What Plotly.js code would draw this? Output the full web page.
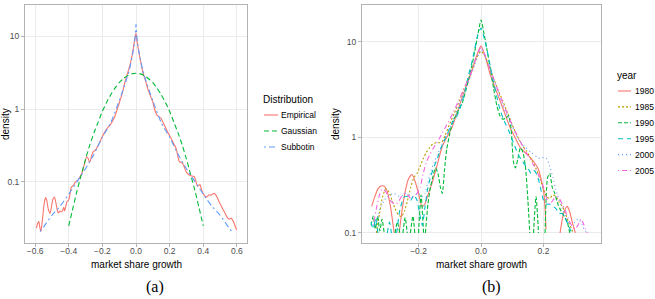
<!DOCTYPE html>
<html>
<head>
<meta charset="utf-8">
<script src="https://cdn.plot.ly/plotly-3.0.1.min.js"></script>
<style>
  html, body { margin: 0; padding: 0; background: #fff; }
  #chart { width: 655px; height: 299px; }
</style>
</head>
<body>
<div id="chart"></div>
<script>
// ---------- Panel (a): density of market share growth, three fits ----------
const distNames = ["Empirical", "Gaussian", "Subbotin"];

const empiricalX = [-0.592,-0.585,-0.578,-0.572,-0.566,-0.558,-0.55,-0.543,-0.537,-0.53,-0.522,-0.511,-0.503,-0.495,-0.485,-0.477,-0.469,-0.461,-0.452,-0.444,-0.436,-0.43,-0.424,-0.418,-0.41,-0.402,-0.395,-0.386,-0.378,-0.37,-0.36,-0.352,-0.343,-0.333,-0.323,-0.313,-0.303,-0.293,-0.284,-0.278,-0.273,-0.264,-0.254,-0.244,-0.234,-0.224,-0.214,-0.2,-0.184,-0.17,-0.154,-0.145,-0.135,-0.125,-0.115,-0.1,-0.085,-0.075,-0.065,-0.05,-0.036,-0.025,-0.016,-0.008,0,
  0.006,0.013,0.02,0.03,0.04,0.055,0.069,0.084,0.099,0.11,0.123,0.135,0.149,0.163,0.178,0.193,0.208,0.223,0.238,0.248,0.258,0.268,0.277,0.287,0.297,0.307,0.317,0.327,0.337,0.347,0.357,0.366,0.373,0.38,0.39,0.398,0.406,0.416,0.426,0.436,0.446,0.455,0.465,0.475,0.485,0.495,0.505,0.515,0.525,0.535,0.545,0.555,0.565,0.575,0.584,0.592,0.598];
const empiricalY = [0.0234,0.027,0.0286,0.024,0.0209,0.028,0.042,0.056,0.061,0.055,0.043,0.037,0.045,0.057,0.062,0.053,0.042,0.0376,0.04,0.039,0.041,0.045,0.04,0.046,0.054,0.056,0.062,0.0836,0.088,0.091,0.1,0.103,0.107,0.118,0.13,0.155,0.19,0.222,0.21,0.19,0.19,0.23,0.26,0.27,0.29,0.32,0.357,0.42,0.49,0.55,0.6,0.65,0.71,0.8,0.94,1.2,1.55,1.9,2.37,3.1,4.0,5.2,6.8,8.8,11,
  8.5,6.8,5.5,4.2,3.24,2.5,1.92,1.55,1.26,1.0,0.83,0.79,0.745,0.64,0.54,0.46,0.4,0.34,0.29,0.23,0.19,0.185,0.18,0.16,0.14,0.13,0.125,0.122,0.12,0.118,0.1,0.087,0.09,0.092,0.078,0.07,0.066,0.062,0.064,0.067,0.066,0.068,0.07,0.066,0.06,0.053,0.048,0.043,0.039,0.035,0.032,0.031,0.032,0.03,0.027,0.024,0.022];

const gaussianX = [-0.4,-0.375,-0.35,-0.325,-0.3,-0.275,-0.25,-0.225,-0.2,-0.175,-0.15,-0.125,-0.1,-0.075,-0.05,-0.025,0,0.025,0.05,0.075,0.1,0.125,0.15,0.175,0.2,0.225,0.25,0.275,0.3,0.325,0.35,0.375,0.4];
const gaussianY = [0.025,0.044,0.077,0.126,0.206,0.32,0.47,0.66,0.93,1.23,1.57,1.93,2.29,2.6,2.87,3.03,3.09,3.03,2.87,2.6,2.29,1.93,1.57,1.23,0.93,0.66,0.47,0.32,0.206,0.126,0.077,0.044,0.025];

const subbotinX = [-0.57,-0.55,-0.5,-0.45,-0.4,-0.35,-0.3,-0.25,-0.2,-0.15,-0.1,-0.08,-0.06,-0.04,-0.03,-0.02,-0.01,-0.005,0,0.005,0.01,0.02,0.03,0.04,0.06,0.08,0.1,0.15,0.2,0.25,0.3,0.35,0.4,0.45,0.5,0.55,0.57];
const subbotinY = [0.021,0.024,0.035,0.047,0.068,0.102,0.152,0.24,0.41,0.65,1.3,1.75,2.4,3.4,4.3,5.6,7.8,10,14.5,10,7.8,5.6,4.3,3.4,2.4,1.75,1.3,0.65,0.41,0.24,0.152,0.102,0.068,0.047,0.035,0.024,0.021];

const xTicksA = [-0.6, -0.4, -0.2, 0, 0.2, 0.4, 0.6];
const xTickTextA = ["\u22120.6", "\u22120.4", "\u22120.2", "0.0", "0.2", "0.4", "0.6"];
const yTicks = [0.1, 1, 10];
const yTickText = ["0.1", "1", "10"];

// ---------- Panel (b): density by year (null = below the 0.1 floor) ----------
const years = ["1980", "1985", "1990", "1995", "2000", "2005"];

const x1980 = [-0.35,-0.34,-0.33,-0.32,-0.311,-0.3,-0.29,-0.278,null,-0.262,-0.252,-0.242,-0.232,-0.221,-0.21,-0.2,-0.189,-0.18,-0.17,-0.157,-0.14,-0.125,-0.11,-0.093,-0.077,-0.061,-0.045,-0.029,-0.015,0,0.015,0.029,0.045,0.061,0.077,0.093,0.11,0.125,0.14,0.157,0.17,0.183,0.193,0.2,0.205,0.208,null,0.253,0.262,0.27,0.276,0.283,0.292,0.302];
const y1980 = [0.19,0.24,0.29,0.31,0.31,0.27,0.19,0.1,null,0.1,0.18,0.28,0.37,0.41,0.34,0.26,0.19,0.2,0.25,0.33,0.52,0.79,1.0,1.27,1.8,2.6,3.6,5.0,7.0,9.1,6.8,4.6,3.3,2.42,1.75,1.27,0.98,0.79,0.7,0.62,0.55,0.47,0.36,0.28,0.18,0.11,null,0.1,0.15,0.18,0.19,0.17,0.13,0.1];

const x1985 = [-0.335,-0.325,-0.315,-0.305,-0.295,-0.285,-0.275,-0.265,-0.255,-0.245,-0.235,-0.225,-0.215,-0.205,-0.195,-0.185,-0.175,-0.165,-0.155,-0.145,-0.135,-0.125,-0.115,-0.1,-0.085,-0.07,-0.055,-0.04,-0.025,-0.012,0,0.012,0.025,0.04,0.055,0.07,0.085,0.1,0.115,0.13,0.145,0.16,0.175,0.19,0.2,0.21,0.22,0.23,0.24,0.25,0.26,0.27,0.28,0.29,0.295];
const y1985 = [0.1,0.16,0.24,0.29,0.27,0.22,0.18,0.155,0.148,0.17,0.22,0.3,0.38,0.42,0.5,0.6,0.7,0.78,0.85,0.88,0.88,0.9,1.05,1.4,1.8,2.4,3.2,4.2,5.6,7.0,8.0,7.2,5.6,4.2,3.1,2.4,1.8,1.35,1.05,0.85,0.72,0.6,0.48,0.36,0.29,0.24,0.23,0.25,0.24,0.21,0.19,0.16,0.13,0.11,0.1];

const x1990 = [-0.352,-0.345,-0.338,-0.331,-0.324,-0.317,-0.31,null,-0.275,-0.268,-0.26,null,-0.25,-0.243,-0.236,null,-0.226,-0.218,-0.212,null,-0.2,-0.192,-0.184,null,-0.178,-0.17,-0.162,-0.153,-0.146,-0.138,-0.13,-0.124,-0.117,-0.11,-0.1,-0.09,-0.08,-0.07,-0.06,-0.05,-0.04,-0.03,-0.02,-0.01,0,0.01,0.02,0.03,0.04,0.05,0.06,0.07,0.08,0.088,0.096,0.104,0.11,0.118,0.126,0.134,0.142,0.15,0.156,null,0.168,0.176,0.184,null,0.205,0.213,0.22,0.228,0.236,0.246,0.256,0.266,0.276,0.284];
const y1990 = [0.12,0.15,0.11,0.15,0.105,0.14,0.1,null,0.1,0.13,0.1,null,0.1,0.145,0.1,null,0.1,0.15,0.1,null,0.1,0.25,0.1,null,0.1,0.2,0.3,0.4,0.48,0.42,0.3,0.26,0.45,0.75,1.1,1.5,1.7,2.0,2.3,3.0,4.0,5.5,8.0,12,17,12,8.0,5.2,3.3,2.2,1.7,1.55,1.6,1.7,1.25,0.55,0.48,0.6,0.78,0.7,0.5,0.22,0.1,null,0.1,0.24,0.1,null,0.1,0.38,0.42,0.3,0.26,0.2,0.17,0.15,0.13,0.1];

const x1995 = [-0.352,-0.345,-0.338,-0.33,null,-0.3,-0.293,-0.287,null,-0.27,-0.262,-0.255,-0.245,-0.235,-0.225,-0.215,-0.205,-0.195,-0.188,-0.18,-0.17,-0.16,-0.15,-0.14,-0.13,-0.12,-0.11,-0.1,-0.09,-0.08,-0.07,-0.06,-0.05,-0.04,-0.03,-0.02,-0.01,0,0.01,0.02,0.03,0.04,0.05,0.06,0.07,0.08,0.09,0.1,0.11,0.12,0.13,0.14,0.15,0.16,0.17,0.18,0.19,0.2,0.21,0.22,0.23,0.24,0.25,0.26,0.27,0.28,0.29];
const y1995 = [0.13,0.11,0.14,0.1,null,0.1,0.13,0.1,null,0.1,0.16,0.2,0.24,0.24,0.22,0.25,0.22,0.15,0.12,0.18,0.3,0.4,0.5,0.6,0.75,0.9,1.05,1.25,1.45,1.6,1.9,2.4,3.2,4.5,6.0,8.5,12,14,11,8.0,5.5,3.8,2.7,2.0,1.6,1.35,1.15,0.95,0.78,0.65,0.58,0.52,0.48,0.42,0.45,0.4,0.3,0.22,0.2,0.2,0.19,0.18,0.16,0.16,0.14,0.12,0.1];

const x2000 = [-0.34,-0.33,-0.32,-0.31,-0.3,-0.29,-0.28,-0.27,-0.26,-0.25,-0.24,-0.23,-0.22,-0.21,-0.2,-0.19,-0.18,-0.17,-0.16,-0.15,-0.14,-0.13,-0.12,-0.11,-0.1,-0.08,-0.06,-0.04,-0.02,0,0.02,0.04,0.06,0.08,0.1,0.12,0.14,0.16,0.18,0.19,0.2,0.21,0.22,0.23,0.24,0.25,0.26,0.27,0.28,0.29,0.3,0.31,0.32,0.33,0.34];
const y2000 = [0.12,0.15,0.19,0.22,0.24,0.25,0.26,0.25,0.24,0.25,0.26,0.25,0.24,0.25,0.26,0.24,0.26,0.34,0.45,0.55,0.65,0.78,0.92,1.05,1.25,1.8,2.6,3.8,5.8,8.3,6.2,4.2,2.7,1.8,1.3,0.95,0.8,0.7,0.62,0.6,0.62,0.6,0.5,0.38,0.28,0.22,0.18,0.15,0.13,0.12,0.13,0.14,0.13,0.11,0.1];

const x2005 = [-0.345,-0.335,-0.325,-0.315,-0.305,-0.295,-0.285,-0.275,-0.265,-0.255,-0.245,-0.235,-0.225,-0.215,-0.205,-0.195,-0.185,-0.175,-0.165,-0.155,-0.145,-0.135,-0.125,-0.11,-0.09,-0.07,-0.05,-0.03,-0.015,0,0.015,0.03,0.05,0.07,0.09,0.11,0.13,0.15,0.17,0.185,0.2,0.21,0.22,0.23,0.24,0.25,0.26,0.27,0.28,0.29,0.3,0.31,0.32,0.33,0.34];
const y2005 = [0.12,0.18,0.25,0.29,0.27,0.23,0.21,0.2,0.21,0.24,0.26,0.25,0.23,0.24,0.26,0.3,0.42,0.55,0.65,0.75,0.85,0.95,1.1,1.35,1.8,2.5,3.5,5.0,7.0,8.8,7.0,5.0,3.4,2.3,1.6,1.15,0.85,0.65,0.5,0.4,0.3,0.23,0.2,0.22,0.24,0.23,0.2,0.17,0.14,0.12,0.11,0.12,0.14,0.12,0.1];

const xTicksB = [-0.2, 0, 0.2];
const xTickTextB = ["\u22120.2", "0.0", "0.2"];

// ---------- styling ----------
const W = 655, H = 299;
const px = v => v / W;            // pixel -> paper x
const py = v => 1 - v / H;        // pixel -> paper y
const SANS = "'Liberation Sans', Arial, Helvetica, sans-serif";
const SERIF = "'Liberation Serif', 'DejaVu Serif', serif";
const LW = 1.1;

const distColors = ["#F8766D", "#00BA38", "#619CFF"];
const distDash = ["solid", "5px,3px", "2px,3px,6px,3px"];
const yearColors = ["#F8766D", "#B79F00", "#00BA38", "#00BFC4", "#619CFF", "#F564E3"];
const yearDash = ["solid", "2px,2px", "4px,2px", "5px,4px", "1px,3px", "1px,3px,5px,3px"];

const seriesA = [[empiricalX, empiricalY], [gaussianX, gaussianY], [subbotinX, subbotinY]];
const seriesB = [[x1980, y1980], [x1985, y1985], [x1990, y1990], [x1995, y1995], [x2000, y2000], [x2005, y2005]];

const traces = [];
seriesA.forEach(([xs, ys], i) => traces.push({
  type: "scatter", mode: "lines", x: xs, y: ys, name: distNames[i],
  xaxis: "x", yaxis: "y", showlegend: false, hoverinfo: "skip",
  line: { color: distColors[i], width: LW, dash: distDash[i], shape: "spline", smoothing: 0.6 }
}));
seriesB.forEach(([xs, ys], i) => traces.push({
  type: "scatter", mode: "lines", x: xs, y: ys, name: years[i], connectgaps: false,
  xaxis: "x2", yaxis: "y2", showlegend: false, hoverinfo: "skip",
  line: { color: yearColors[i], width: LW, dash: yearDash[i], shape: "spline", smoothing: 0.6 }
}));

const axisCommon = {
  showline: true, mirror: true, linecolor: "#b3b3b3", linewidth: 1,
  ticks: "outside", ticklen: 3, tickwidth: 1, tickcolor: "#b3b3b3",
  tickfont: { family: SANS, size: 8.5, color: "#4d4d4d" },
  showgrid: true, gridcolor: "#ebebeb", gridwidth: 1, zeroline: false,
  fixedrange: true, automargin: false
};
const yDomain = [py(243), py(5)];

// Hand-built legend keys (short line samples next to their labels)
const shapes = [];
const annotations = [];
function legendBlock(title, names, colors, dashes, x0, x1, xText, yTitle, yFirst, step) {
  annotations.push({ xref: "paper", yref: "paper", x: px(x0 - 3), y: py(yTitle), xanchor: "left", yanchor: "middle",
    text: title, showarrow: false, font: { family: SANS, size: 10, color: "#000" } });
  names.forEach((n, i) => {
    const yy = yFirst + i * step;
    shapes.push({ type: "line", xref: "paper", yref: "paper", x0: px(x0), x1: px(x1), y0: py(yy), y1: py(yy),
      line: { color: colors[i], width: LW, dash: dashes[i] } });
    annotations.push({ xref: "paper", yref: "paper", x: px(xText), y: py(yy), xanchor: "left", yanchor: "middle",
      text: n, showarrow: false, font: { family: SANS, size: 8.5, color: "#000" } });
  });
}
legendBlock("Distribution", distNames, distColors, distDash, 264, 278, 278.5, 99, 115, 16);
legendBlock("year", years, yearColors, yearDash, 618, 631, 632.5, 75, 91, 15.9);

// Axis titles and panel captions
const textNote = (text, x, y, size, family, angle) => ({
  xref: "paper", yref: "paper", x: px(x), y: py(y), xanchor: "center", yanchor: "middle",
  text, showarrow: false, textangle: angle || 0, font: { family, size, color: "#000" }
});
annotations.push(textNote("market share growth", 136, 264, 10, SANS));
annotations.push(textNote("market share growth", 481, 264, 10, SANS));
annotations.push(textNote("density", 6, 124, 10, SANS, -90));
annotations.push(textNote("density", 336, 124, 10, SANS, -90));
annotations.push(textNote("(a)", 155, 287, 16, SERIF));
annotations.push(textNote("(b)", 491, 287, 16, SERIF));

const layout = {
  width: W, height: H,
  margin: { l: 0, r: 0, t: 0, b: 0, pad: 0 },
  paper_bgcolor: "#ffffff", plot_bgcolor: "#ffffff",
  showlegend: false,
  xaxis: Object.assign({}, axisCommon, {
    domain: [px(25), px(247)], range: [-0.66, 0.66], anchor: "y",
    tickmode: "array", tickvals: xTicksA, ticktext: xTickTextA, ticklabelstandoff: -3
  }),
  yaxis: Object.assign({}, axisCommon, {
    type: "log", domain: yDomain, range: [-1.836, 1.425], anchor: "x",
    tickmode: "array", tickvals: yTicks, ticktext: yTickText
  }),
  xaxis2: Object.assign({}, axisCommon, {
    domain: [px(362), px(601)], range: [-0.381, 0.384], anchor: "y2",
    tickmode: "array", tickvals: xTicksB, ticktext: xTickTextB, ticklabelstandoff: -3
  }),
  yaxis2: Object.assign({}, axisCommon, {
    type: "log", domain: yDomain, range: [-1.105, 1.387], anchor: "x2",
    tickmode: "array", tickvals: yTicks, ticktext: yTickText
  }),
  shapes, annotations
};

Plotly.newPlot("chart", traces, layout, { displayModeBar: false, staticPlot: true });
</script>
</body>
</html>
